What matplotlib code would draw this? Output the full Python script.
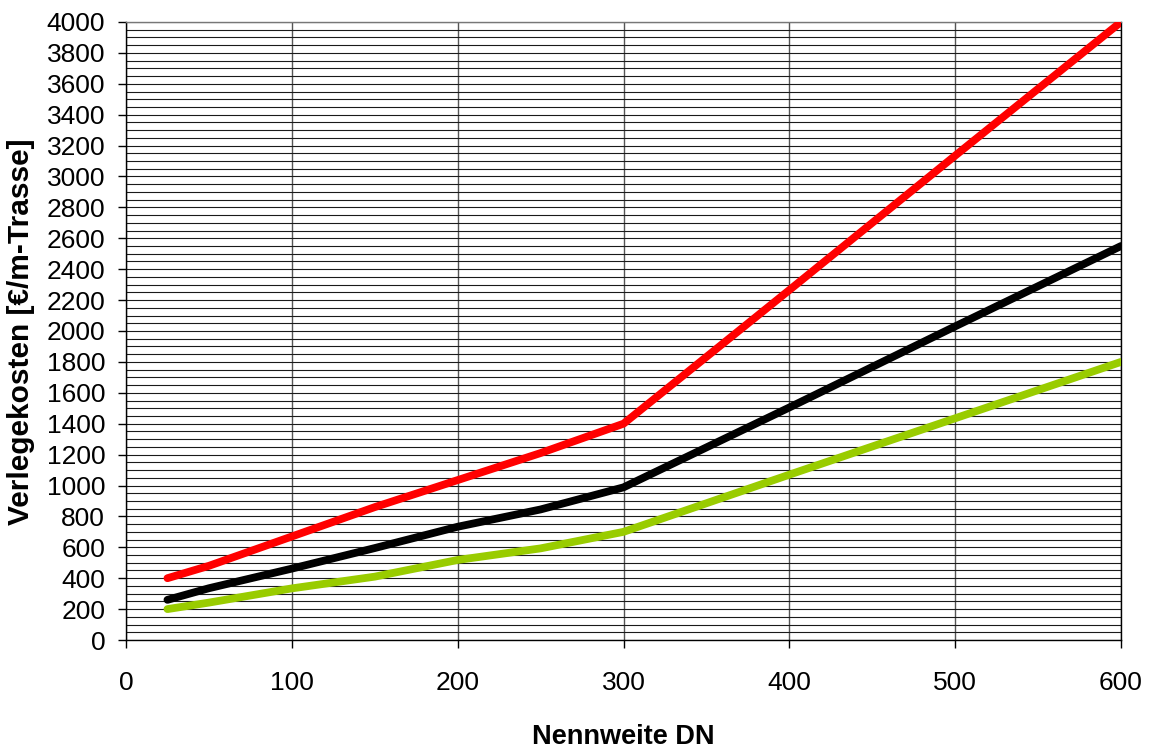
import matplotlib.pyplot as plt
import numpy as np

plt.rcParams['font.family'] = ['Liberation Sans', 'DejaVu Sans']

# Nennweite DN
dn = [25, 50, 100, 150, 200, 250, 300, 400, 500, 600]

# Verlegekosten [€/m-Trasse]
red_costs = [400, 480, 670, 860, 1035, 1210, 1400, 2265, 3135, 4000]
black_costs = [260, 335, 462, 595, 733, 845, 988, 1505, 2030, 2550]
green_costs = [200, 242, 334, 410, 518, 593, 700, 1070, 1435, 1800]

fig = plt.figure(figsize=(11.52, 7.51), dpi=100)
ax = fig.add_axes([126 / 1152, 111 / 751, 995 / 1152, 618 / 751])

ax.plot(dn, red_costs, color='#ff0000', lw=5.6, solid_capstyle='round', zorder=5)
ax.plot(dn, black_costs, color='#000000', lw=5.6, solid_capstyle='round', zorder=5)
ax.plot(dn, green_costs, color='#99cc00', lw=5.6, solid_capstyle='round', zorder=5)

ax.set_xlim(0, 600)
ax.set_ylim(0, 4000)
ax.set_xticks(np.arange(0, 601, 100))
ax.set_yticks(np.arange(0, 4001, 200))
ax.set_yticks(np.arange(0, 4001, 50), minor=True)

# grid: horizontal every 50, vertical every 100
ax.grid(True, axis='y', which='both', color='#1a1a1a', lw=0.8, zorder=1)
ax.grid(True, axis='x', which='major', color='#555555', lw=1.0, zorder=1)

ax.tick_params(axis='y', which='major', direction='out', length=6, width=1,
               pad=9, labelsize=19)
ax.tick_params(axis='y', which='minor', length=0)
ax.tick_params(axis='x', direction='out', length=6, width=1, pad=16,
               labelsize=19)

for side in ['left', 'bottom', 'right']:
    ax.spines[side].set_color('#000000')
    ax.spines[side].set_linewidth(1.0)
ax.spines['top'].set_color('#777777')
ax.spines['top'].set_linewidth(1.0)

ax.set_xlabel('Nennweite DN', fontsize=19.5, fontweight='bold', labelpad=21)
ax.set_ylabel('Verlegekosten [€/m-Trasse]', fontsize=21.5, fontweight='bold')
ax.yaxis.set_label_coords(-0.091, 0.498)

fig.savefig('out.png', dpi=100)
